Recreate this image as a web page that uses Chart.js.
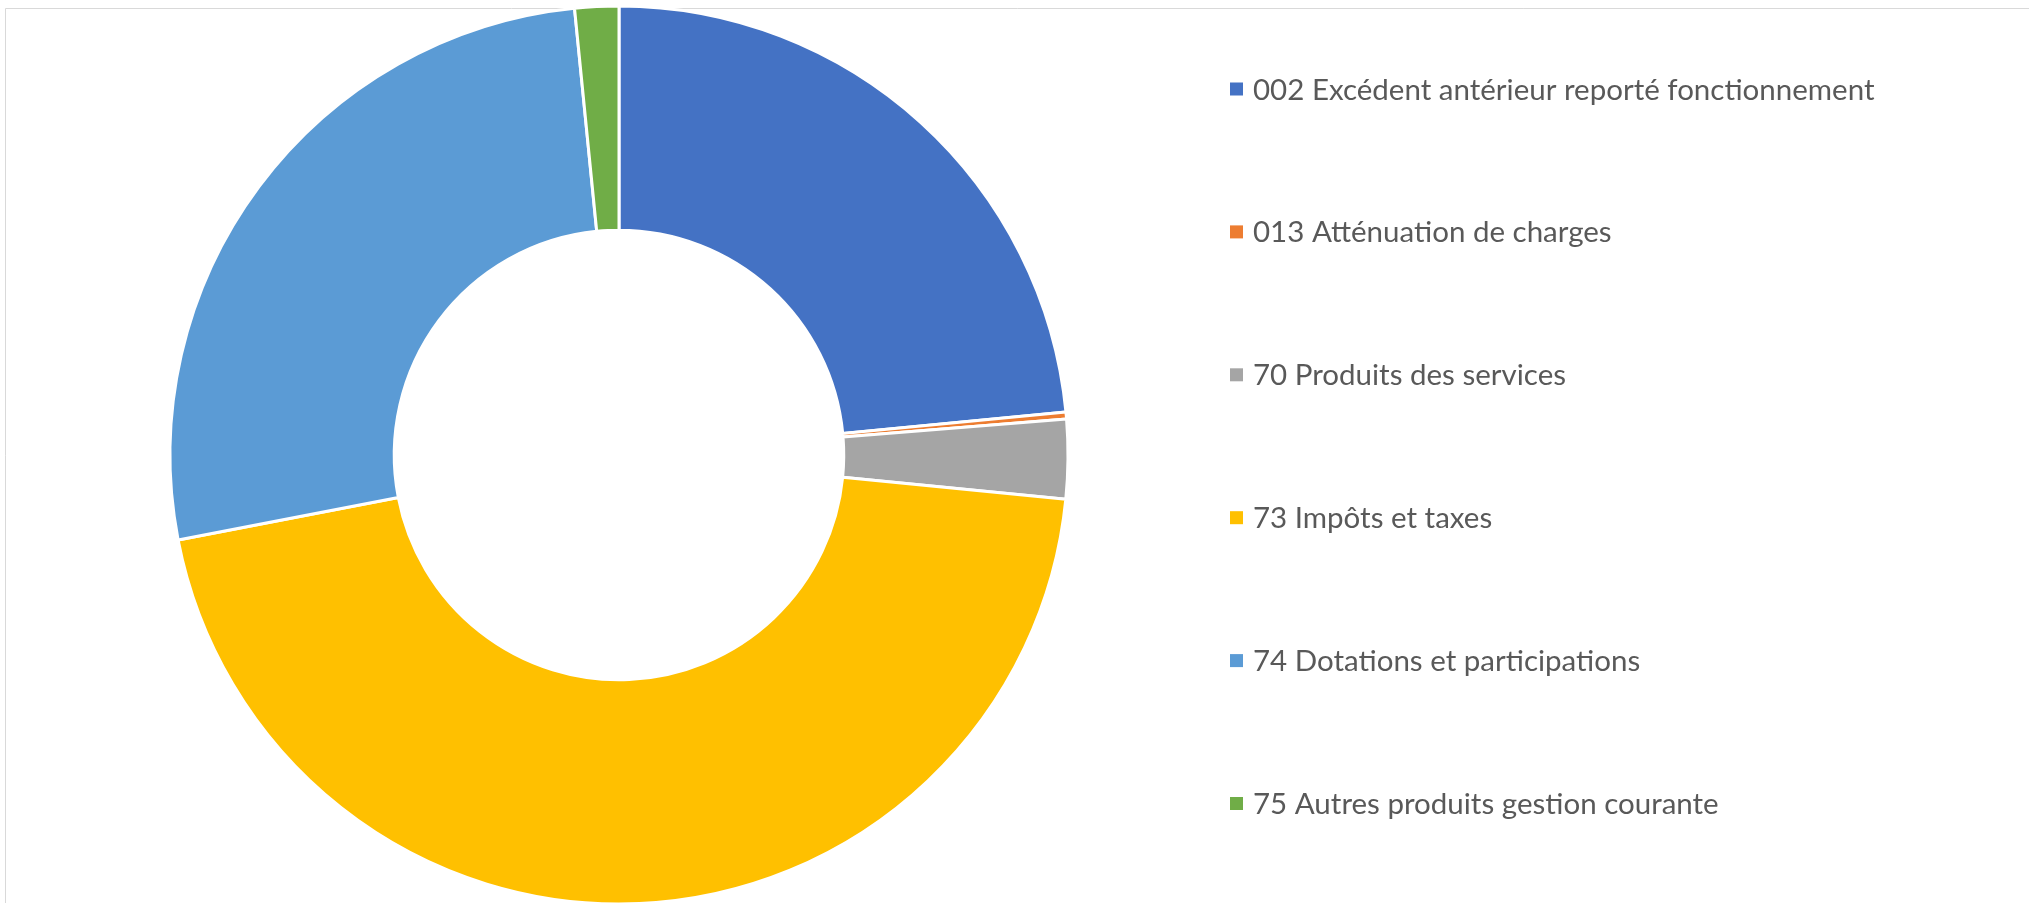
<!DOCTYPE html>
<html lang="fr">
<head>
<meta charset="utf-8">
<title>Recettes de fonctionnement</title>
<script src="https://cdn.jsdelivr.net/npm/chart.js@4.4.1/dist/chart.umd.min.js"></script>
<style>
    html, body { margin: 0; padding: 0; background: #ffffff; }
    #zoneGraphique { position: relative; width: 2029px; height: 903px; }
</style>
</head>
<body>
<div id="zoneGraphique">
    <canvas id="chartRecettes"></canvas>
</div>
<script>
// Chapitres de recettes (libellés du graphique)
const categories = [
    '002 Excédent antérieur reporté fonctionnement',
    '013 Atténuation de charges',
    '70 Produits des services',
    '73 Impôts et taxes',
    '74 Dotations et participations',
    '75 Autres produits gestion courante'
];

// Part de chaque chapitre (en %)
const valeurs = [23.47, 0.25, 2.85, 45.4, 26.45, 1.58];

// Palette Office par défaut
const couleurs = ['#4472C4', '#ED7D31', '#A5A5A5', '#FFC000', '#5B9BD5', '#70AD47'];

// Cadre gris clair (haut et gauche) comme dans l'export d'origine
const pluginCadre = {
    id: 'cadre',
    beforeDraw(chart) {
        const ctx = chart.ctx;
        ctx.save();
        ctx.strokeStyle = '#d9d9d9';
        ctx.lineWidth = 1;
        ctx.beginPath();
        ctx.moveTo(5.5, chart.height);
        ctx.lineTo(5.5, 8.5);
        ctx.lineTo(chart.width, 8.5);
        ctx.stroke();
        ctx.restore();
    }
};

// Légende dessinée à la main : l'espacement d'origine est trop grand pour la légende native
const pluginLegende = {
    id: 'legendeExcel',
    afterDraw(chart) {
        const ctx = chart.ctx;
        const labels = chart.data.labels;
        const fonds = chart.data.datasets[0].backgroundColor;
        const x = 1230, yDebut = 89, pas = 142.9, cote = 13;
        ctx.save();
        ctx.font = '29.5px Lato, "Open Sans", sans-serif';
        ctx.textBaseline = 'middle';
        labels.forEach((texte, i) => {
            const y = yDebut + i * pas;
            ctx.fillStyle = fonds[i];
            ctx.fillRect(x, y - cote / 2, cote, cote);
            ctx.fillStyle = '#595959';
            ctx.fillText(texte, x + 23, y + 1);
        });
        ctx.restore();
    }
};

const ctx = document.getElementById('chartRecettes');

new Chart(ctx, {
    type: 'doughnut',
    data: {
        labels: categories,
        datasets: [{
            data: valeurs,
            backgroundColor: couleurs,
            borderColor: '#ffffff',
            borderWidth: 3
        }]
    },
    options: {
        responsive: true,
        maintainAspectRatio: false,
        animation: false,
        radius: 449,
        cutout: 222,
        layout: { padding: { left: 174, right: 965, top: 10, bottom: 3 } },
        plugins: {
            legend: { display: false },
            tooltip: { enabled: false }
        }
    },
    plugins: [pluginCadre, pluginLegende]
});
</script>
</body>
</html>
